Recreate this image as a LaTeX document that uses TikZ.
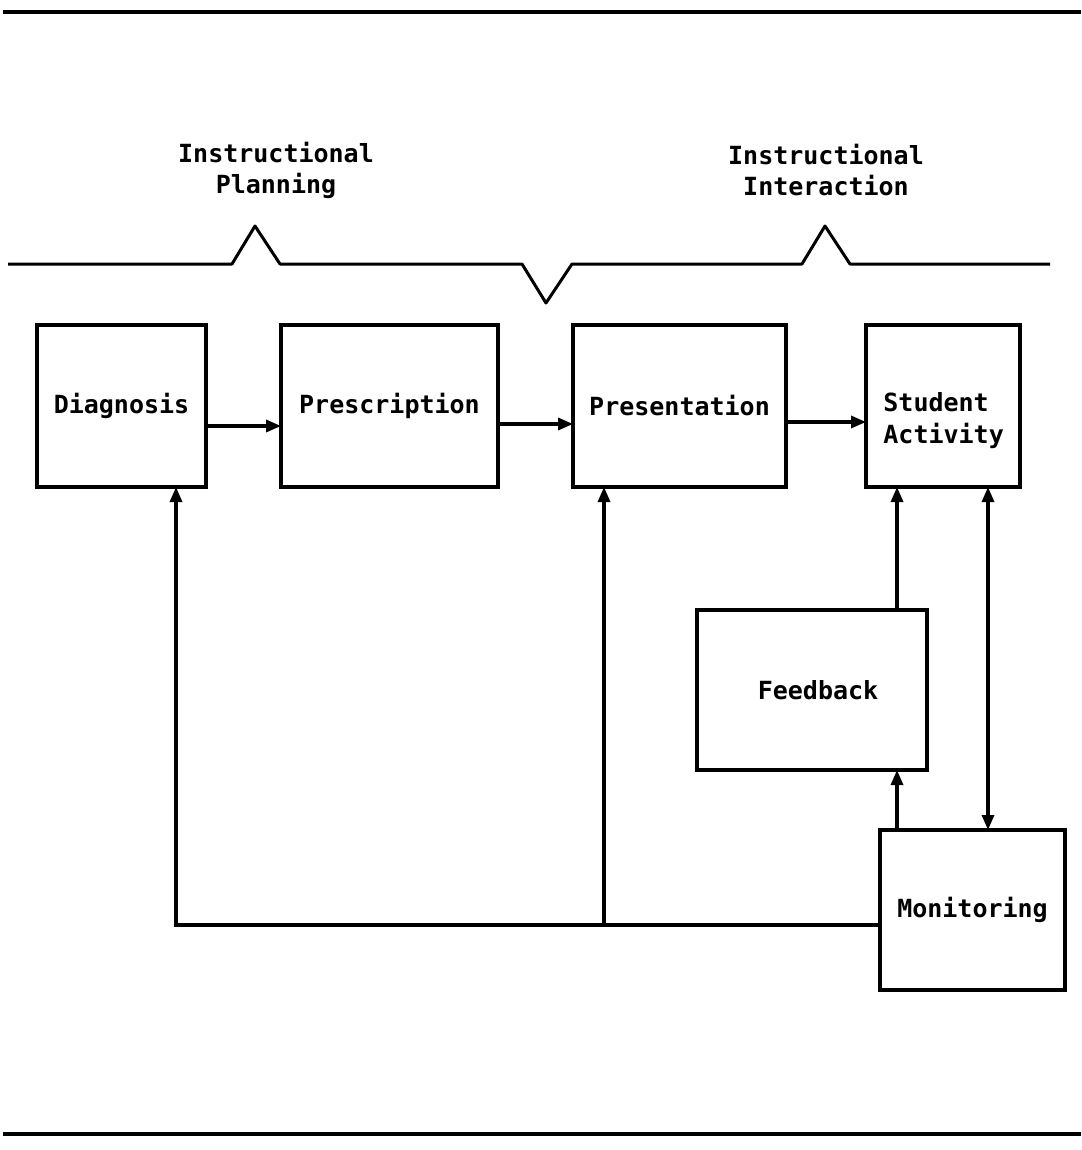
\documentclass[tikz,border=0pt]{standalone}
\usepackage{fontspec}
\newfontfamily\tw{DejaVu Sans Mono}
\usetikzlibrary{arrows.meta}
\begin{document}
\begin{tikzpicture}[x=0.5pt,y=-0.5pt,
  lbl/.style={font=\tw\bfseries\fontsize{12.5}{15.5}\selectfont, align=center, inner sep=0pt},
  blk/.style={draw, line width=2pt, inner sep=0pt, outer sep=0pt, minimum height=81pt,
    font=\tw\bfseries\fontsize{12.5}{16}\selectfont, align=left},
  conn/.style={line width=1.6pt},
  tip/.tip={Triangle[length=7.5pt,width=6pt]},
  rule/.style={line width=1.8pt}]
\useasboundingbox (0,0) rectangle (1081,1150);

% page rules
\coordinate (t0) at (3,12);   \coordinate (t1) at (1081,12);
\coordinate (b0) at (3,1134); \coordinate (b1) at (1081,1134);
\draw[rule] (t0) -- (t1);
\draw[rule] (b0) -- (b1);

% phase headings
\node[lbl] (plan) at (276,170) {Instructional\\Planning};
\node[lbl] (inter) at (826,170) {Instructional\\Interaction};

% bracket line grouping the phases
\draw[line width=1.5pt, line join=round]
  (8,264) -- (232,264) -- (255,226) -- (280,264) -- (522,264) -- (546,303)
  -- (572,264) -- (802,264) -- (825,226) -- (850,264) -- (1050,264);

% process blocks
\node[blk, minimum width=84.5pt]  (diag) at (121.5,406) {Diagnosis};
\node[blk, minimum width=108.5pt] (presc) at (389.5,406) {Prescription};
\node[blk, minimum width=106.5pt] (pres) at (679.5,406) {Presentation};
\node[blk, minimum width=77pt]    (stu) at (943,406) {};
\node[lbl, align=left, anchor=west, font=\tw\bfseries\fontsize{12.5}{16}\selectfont]
  (stutext) at (883,421) {Student\\Activity};
\node[blk, minimum width=115pt, minimum height=80pt] (fb) at (812,690) {\hspace*{6pt}Feedback};
\node[blk, minimum width=92.5pt, minimum height=80pt] (mon) at (972.5,910) {Monitoring};

% forward flow
\draw[conn,-tip] ([yshift=-10pt]diag.east) -- ([yshift=-10pt]presc.west |- diag.east);
\draw[conn,-tip] ([yshift=-9pt]presc.east) -- ([yshift=-9pt]pres.west |- presc.east);
\draw[conn,-tip] ([yshift=-8pt]pres.east) -- ([yshift=-8pt]stu.west |- pres.east);

% entry points on the block bottoms
\coordinate (dIn) at ([xshift=27.25pt]diag.south);
\coordinate (pIn) at ([xshift=-37.75pt]pres.south);
\coordinate (sIn1) at ([xshift=-23pt]stu.south);
\coordinate (sIn2) at ([xshift=22.5pt]stu.south);
\coordinate (j) at ([yshift=-7.5pt]mon.west);

% feedback and monitoring links
\draw[conn,-tip] (sIn1 |- fb.north) -- (sIn1);
\draw[conn,-tip] (sIn1 |- mon.north) -- (sIn1 |- fb.south);
\draw[conn,tip-tip] (sIn2) -- (sIn2 |- mon.north);

% return paths from monitoring
\draw[conn,-tip] (j) -| (dIn);
\draw[conn,-tip] (pIn |- j) -- (pIn);
\end{tikzpicture}
\end{document}
